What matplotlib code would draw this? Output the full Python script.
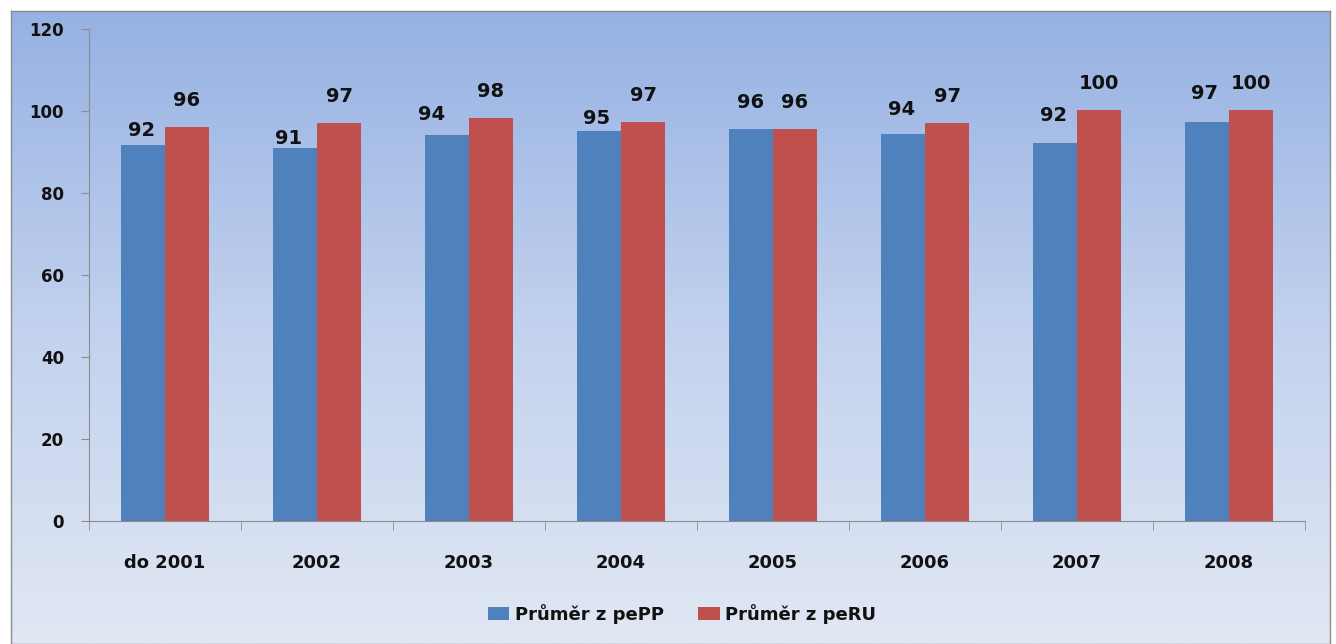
import numpy as np
import matplotlib
matplotlib.use("Agg")
import matplotlib.pyplot as plt
from matplotlib.colors import LinearSegmentedColormap

categories = ["do 2001", "2002", "2003", "2004", "2005", "2006", "2007", "2008"]
pepp = [91.7, 91.0, 94.1, 95.1, 95.6, 94.4, 92.2, 97.3]
peru = [96.1, 97.1, 98.3, 97.3, 95.6, 97.0, 100.2, 100.2]
pepp_labels = ["92", "91", "94", "95", "96", "94", "92", "97"]
peru_labels = ["96", "97", "98", "97", "96", "97", "100", "100"]
series_names = ["Průměr z pePP", "Průměr z peRU"]
yticks = [0, 20, 40, 60, 80, 100, 120]

# label placement (pixel offsets above bar top / horizontal shift) - style only
pepp_gap_px = [5, 0, 11, 3, 17, 15, 18, 19]
pepp_dx_px = [-1, -6, -15, -2, 0, -1, -1, -2]
peru_gap_px = 17

plt.rcParams['font.family'] = ['DejaVu Sans']

W, H = 1336, 644
DPI = 100
fig = plt.figure(figsize=(W/DPI, H/DPI), dpi=DPI)
fig.patch.set_facecolor("white")

# gradient background inside border
bg = fig.add_axes([11/W, 0/H, (1330-11)/W, (633-0)/H])
cmap = LinearSegmentedColormap.from_list("g", ["#96b1e3", "#c2d2ee", "#e1e7f3"])
grad = np.linspace(0, 1, 256).reshape(-1, 1)
bg.imshow(grad, aspect="auto", cmap=cmap, extent=[0, 1, 0, 1], origin="upper")
bg.set_xticks([]); bg.set_yticks([])
for s in bg.spines.values():
    s.set_color("#8c8c8c"); s.set_linewidth(1)
bg.set_zorder(0)

ax = fig.add_axes([89/W, 1-521/H, (1305-89)/W, (521-29)/H])
ax.set_zorder(1)
ax.patch.set_alpha(0)
x = np.arange(len(categories))
bw = 0.29
b1 = ax.bar(x - bw/2, pepp, bw, color="#4f81bd", label=series_names[0])
b2 = ax.bar(x + bw/2, peru, bw, color="#c0504d", label=series_names[1])
px2pt = 72 / DPI
for xi, v, lab, g, dx in zip(x, pepp, pepp_labels, pepp_gap_px, pepp_dx_px):
    ax.annotate(lab, (xi - bw/2, v), xytext=(dx * px2pt, g * px2pt), textcoords="offset points",
                ha="center", va="bottom", fontsize=14, fontweight="bold", color="#111111")
for xi, v, lab in zip(x, peru, peru_labels):
    ax.annotate(lab, (xi + bw/2, v), xytext=(0, peru_gap_px * px2pt), textcoords="offset points",
                ha="center", va="bottom", fontsize=14, fontweight="bold", color="#111111")

ax.set_xlim(-0.5, len(categories) - 0.5)
ax.set_ylim(0, 120)
ax.set_yticks(yticks)
ax.set_yticklabels([str(t) for t in yticks], fontsize=12, fontweight="bold", color="#111111")
ax.set_xticks(x)
ax.set_xticklabels(categories, fontsize=13, fontweight="bold", color="#111111")
ax.tick_params(axis="x", length=0, pad=24)
ax.tick_params(axis="y", length=6, color="#8c8c8c", pad=12)
ax.set_xticks(np.arange(len(categories) + 1) - 0.5, minor=True)
ax.tick_params(axis="x", which="minor", length=6.5, color="#8c8c8c", direction="out")
for s in ["top", "right"]:
    ax.spines[s].set_visible(False)
ax.spines["left"].set_color("#8c8c8c")
ax.spines["bottom"].set_color("#8c8c8c")

leg = fig.legend(handles=[b1, b2], labels=series_names, loc="center", bbox_to_anchor=(682/W, 1-614/H),
                 ncol=2, frameon=False, fontsize=13, handlelength=1.2, handleheight=0.7,
                 columnspacing=1.9, handletextpad=0.3)
for t in leg.get_texts():
    t.set_fontweight("bold")
    t.set_color("#111111")

fig.savefig("out.png", dpi=DPI)
